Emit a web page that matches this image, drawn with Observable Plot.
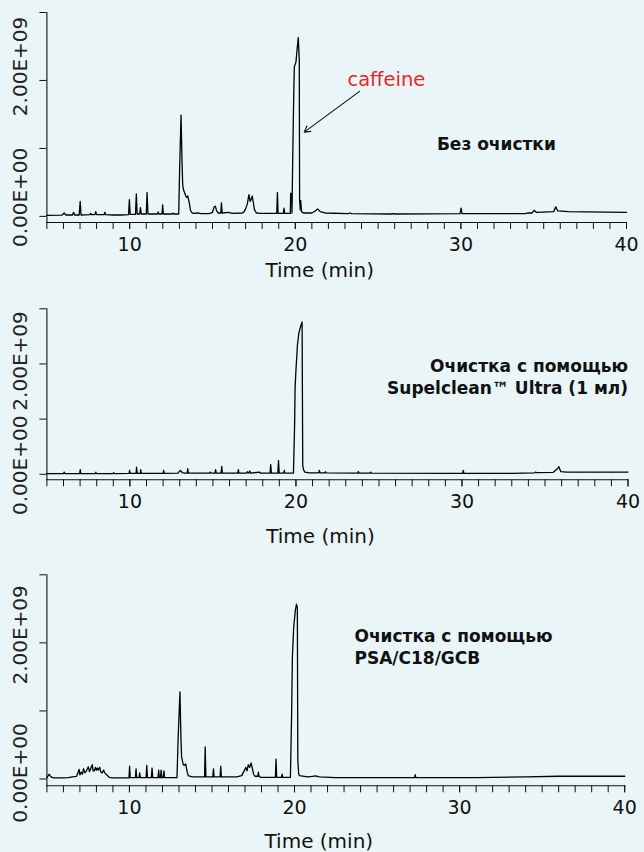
<!DOCTYPE html>
<html><head><meta charset="utf-8">
<script src="https://cdn.jsdelivr.net/npm/d3@7"></script>
<script src="https://cdn.jsdelivr.net/npm/@observablehq/plot@0.6"></script>
<style>
html,body{margin:0;padding:0;background:#eaf5f8;}
#chart{width:644px;height:852px;}
#chart svg{display:block;}
</style></head><body><div id="chart"></div>
<script>
// ---- data ----
const xTickLabels = [10, 20, 30, 40];
const xMinorTicks = [5,6,7,8,9,10,11,12,13,14,15,16,17,18,19,20,21,22,23,24,25,26,27,28,29,30,31,32,33,34,35,36,37,38,39,40];
const yTickValues = [0, 1, 2, 3];            // in units of 1E+09
const yLabelValues = [0, 2];
const yLabelTexts = ["0.00E+00", "2.00E+09"];
const xLabel = "Time (min)";
const panelNames = ["Без очистки", "Очистка с помощью\nSupelclean™ Ultra (1 мл)", "Очистка с помощью\nPSA/C18/GCB"];
const peakName = "caffeine";

// Panel 1: no clean-up (time, min / intensity, 1E+09)
const t1 = [5.0,5.9,6.04,6.15,6.55,6.61,6.68,6.95,7.01,7.06,7.6,7.65,7.7,7.9,7.95,8.0,8.45,8.5,8.55,9.0,9.5,9.93,9.98,10.03,10.35,10.4,10.45,10.6,10.65,10.7,11.0,11.05,11.1,11.5,11.68,11.72,11.76,11.95,11.99,12.03,12.58,12.62,12.66,12.96,13.02,13.1,13.16,13.2,13.26,13.33,13.37,13.43,13.5,13.59,13.67,13.77,13.9,14.1,14.3,14.8,15.0,15.1,15.17,15.25,15.35,15.5,15.54,15.58,15.98,16.2,16.8,16.91,17.0,17.1,17.2,17.27,17.32,17.4,17.48,17.53,17.65,17.9,18.2,18.88,18.92,18.96,19.28,19.32,19.36,19.7,19.72,19.78,19.8,19.84,19.9,19.94,20.04,20.12,20.18,20.24,20.26,20.3,20.33,20.37,20.5,21.0,21.2,21.35,21.5,21.8,23.2,23.3,23.4,25.8,25.9,26.0,29.95,30.01,30.07,33.9,34.05,34.3,34.42,34.55,35.6,35.73,35.85,36.5,40];
const v1 = [0.015,0.018,0.05,0.02,0.02,0.06,0.02,0.02,0.22,0.02,0.025,0.045,0.025,0.025,0.07,0.025,0.025,0.06,0.025,0.02,0.02,0.025,0.245,0.03,0.03,0.33,0.035,0.035,0.13,0.035,0.035,0.35,0.035,0.035,0.035,0.065,0.035,0.035,0.17,0.035,0.035,0.05,0.035,0.035,0.75,1.49,0.8,0.46,0.38,0.34,0.31,0.28,0.30,0.21,0.09,0.05,0.045,0.05,0.04,0.04,0.06,0.14,0.15,0.08,0.05,0.05,0.2,0.05,0.06,0.045,0.05,0.07,0.11,0.18,0.32,0.22,0.24,0.3,0.18,0.1,0.05,0.045,0.045,0.045,0.35,0.045,0.045,0.12,0.045,0.045,0.34,0.34,0.05,0.78,1.71,2.2,2.27,2.49,2.63,2.3,0.24,0.1,0.23,0.07,0.05,0.05,0.08,0.11,0.07,0.05,0.04,0.05,0.04,0.035,0.04,0.035,0.04,0.12,0.04,0.04,0.05,0.05,0.09,0.06,0.07,0.14,0.08,0.07,0.06];

// Panel 2: Supelclean Ultra (1 ml)
const t2 = [5.0,6.0,6.04,6.08,6.97,7.01,7.05,7.92,7.95,7.98,8.98,9.02,9.06,9.95,9.98,10.02,10.37,10.4,10.44,10.62,10.65,10.69,11.99,12.03,12.07,12.9,13.0,13.05,13.15,13.3,13.45,13.48,13.52,14.8,14.84,14.88,15.12,15.16,15.2,15.49,15.53,15.57,16.49,16.53,16.57,17.03,17.07,17.15,17.22,17.28,17.81,17.85,18.44,18.48,18.52,18.91,18.95,18.99,19.26,19.3,19.34,19.85,19.92,19.95,20.0,20.09,20.17,20.27,20.37,20.41,20.46,20.54,20.8,21.37,21.41,21.45,21.74,21.78,21.82,23.72,23.76,23.8,24.46,24.5,24.54,30.04,30.08,30.12,33.0,34.38,34.42,34.5,35.5,35.75,35.83,35.95,36.3,40];
const v2 = [0.012,0.012,0.04,0.012,0.012,0.085,0.012,0.012,0.04,0.012,0.012,0.03,0.012,0.015,0.07,0.015,0.015,0.13,0.015,0.015,0.085,0.015,0.015,0.07,0.015,0.02,0.06,0.07,0.03,0.02,0.02,0.1,0.02,0.02,0.04,0.02,0.02,0.085,0.02,0.02,0.145,0.02,0.02,0.085,0.02,0.02,0.045,0.02,0.06,0.02,0.04,0.02,0.02,0.175,0.02,0.02,0.25,0.02,0.02,0.07,0.02,0.02,0.9,1.58,1.88,2.34,2.55,2.67,2.76,0.16,0.08,0.04,0.025,0.025,0.07,0.025,0.025,0.045,0.025,0.02,0.05,0.02,0.02,0.04,0.02,0.015,0.07,0.015,0.015,0.025,0.04,0.03,0.035,0.1,0.14,0.05,0.04,0.04];

// Panel 3: PSA/C18/GCB
const t3 = [5.0,5.08,5.13,5.25,5.4,6.0,6.3,6.53,6.8,6.95,7.0,7.07,7.15,7.22,7.3,7.4,7.51,7.58,7.65,7.75,7.8,7.87,7.94,7.99,8.05,8.11,8.2,8.27,8.34,8.44,8.5,8.59,8.77,9.0,9.97,10.01,10.05,10.36,10.4,10.44,10.58,10.62,10.66,11.01,11.05,11.09,11.33,11.37,11.41,11.73,11.77,11.81,11.88,11.92,11.96,12.05,12.09,12.13,12.88,12.95,13.06,13.12,13.16,13.25,13.31,13.41,13.5,13.56,13.8,14.55,14.59,14.63,15.05,15.09,15.13,15.49,15.53,15.57,16.5,16.8,16.97,17.05,17.12,17.2,17.28,17.37,17.45,17.52,17.6,17.78,17.81,17.85,17.93,18.84,18.88,18.92,19.21,19.25,19.29,19.75,19.82,19.87,19.95,20.05,20.12,20.17,20.2,20.25,20.29,20.8,21.1,21.28,21.5,22.5,27.27,27.31,27.35,31.0,34.0,36.0,40];
const v3 = [0.02,0.05,0.07,0.03,0.015,0.015,0.02,0.03,0.04,0.14,0.06,0.1,0.07,0.15,0.09,0.12,0.18,0.11,0.15,0.21,0.12,0.12,0.17,0.13,0.16,0.13,0.17,0.1,0.09,0.13,0.09,0.07,0.025,0.015,0.015,0.19,0.02,0.02,0.15,0.02,0.02,0.09,0.02,0.02,0.2,0.02,0.02,0.16,0.02,0.02,0.13,0.02,0.02,0.13,0.02,0.02,0.12,0.02,0.02,0.6,1.28,0.6,0.32,0.22,0.2,0.22,0.1,0.05,0.03,0.03,0.47,0.03,0.03,0.15,0.03,0.03,0.19,0.03,0.03,0.05,0.13,0.17,0.12,0.21,0.17,0.235,0.15,0.07,0.04,0.04,0.1,0.04,0.025,0.025,0.29,0.025,0.025,0.07,0.025,0.025,0.9,1.79,2.23,2.48,2.57,2.52,0.27,0.08,0.05,0.03,0.04,0.045,0.03,0.02,0.02,0.065,0.02,0.02,0.03,0.04,0.04];

// ---- layout (positions/sizes) ----
const layouts = [
  {t: t1, v: v1, height: 290, mt: 12, mb: 68, ml: 46.4, mr: 18, yMin: -0.09, labDy: [-19, -14], timeDy: 48,
   note: {x: 28.55, y: 1.09, anchor: "start"},
   peak: {x: 25.5, y: 2.01, x1: 23.88, y1: 1.84, x2: 20.54, y2: 1.24}},
  {t: t2, v: v2, height: 270, mt: 18.3, mb: 80.7, ml: 46.4, mr: 16.5, yMin: -0.1, labDy: [-9, -3], timeDy: 57,
   note: {x: 40, y: 1.785, anchor: "end"}},
  {t: t3, v: v3, height: 292, mt: 14.3, mb: 66.7, ml: 46.4, mr: 19.8, yMin: -0.1, labDy: [-6, -8], timeDy: 56,
   note: {x: 23.63, y: 1.955, anchor: "start"}}
];

const font = "'DejaVu Sans', Verdana, sans-serif";
const root = document.getElementById("chart");

layouts.forEach((L, pi) => {
  const rows = L.t.map((t, i) => ({t, v: L.v[i]}));
  const marks = [
    Plot.frame({anchor: "left", stroke: "#111", strokeWidth: 1.1}),
    Plot.frame({anchor: "bottom", stroke: "#111", strokeWidth: 1.1}),
    Plot.axisX({ticks: xMinorTicks, tickSize: 7, tickFormat: () => "", label: null, stroke: "#111"}),
    Plot.axisX({ticks: xTickLabels, tickSize: 7, tickPadding: 8, label: null, fontSize: 19, fill: "#111", stroke: "#111"}),
    Plot.axisY({ticks: yTickValues, tickSize: 7, tickFormat: () => "", label: null, stroke: "#111"}),
    ...yLabelValues.map((val, i) => Plot.text([val], {
      y: d => d, text: () => yLabelTexts[i], frameAnchor: "left", dx: -26, dy: L.labDy[i],
      rotate: -90, textAnchor: "middle", lineAnchor: "middle", fontSize: 20, fill: "#222"
    })),
    Plot.text([xLabel], {frameAnchor: "bottom", lineAnchor: "middle", dy: L.timeDy, dx: -17, fontSize: 20, fill: "#111"}),
    Plot.line(rows, {x: "t", y: "v", stroke: "#000", strokeWidth: 1.3}),
    Plot.text([panelNames[pi]], {x: () => L.note.x, y: () => L.note.y, textAnchor: L.note.anchor,
      lineAnchor: "middle", fontWeight: "bold", fontSize: 17, lineHeight: 1.33, fill: "#111"})
  ];
  if (L.peak) {
    marks.push(Plot.text([peakName], {x: () => L.peak.x, y: () => L.peak.y, fill: "#e8252f", fontSize: 19.5}));
    marks.push(Plot.arrow([L.peak], {x1: "x1", y1: "y1", x2: "x2", y2: "y2", stroke: "#111", strokeWidth: 1.1, headLength: 9}));
  }
  const chart = Plot.plot({
    width: 644, height: L.height,
    marginTop: L.mt, marginBottom: L.mb, marginLeft: L.ml, marginRight: L.mr,
    x: {domain: [5, 40]},
    y: {domain: [L.yMin, 3]},
    style: {background: "transparent", fontFamily: font, color: "#111", overflow: "visible"},
    marks
  });
  root.appendChild(chart);
});
</script></body></html>
